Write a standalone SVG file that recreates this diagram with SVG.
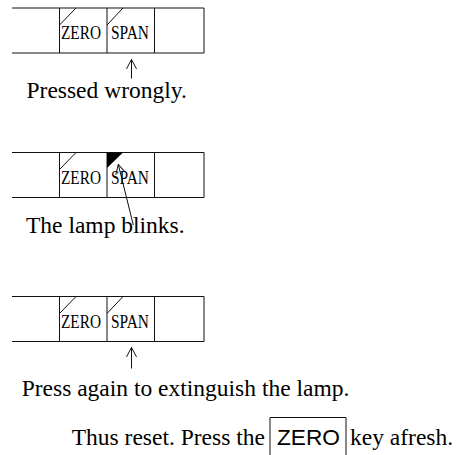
<svg xmlns="http://www.w3.org/2000/svg" width="459" height="455" viewBox="0 0 459 455">
<style>
.ln{fill:none;stroke:#111;stroke-width:1}
.key{font-family:"Liberation Serif","Times New Roman",serif;font-size:19px;fill:#000}
.cap{font-family:"Liberation Serif","Times New Roman",serif;font-size:23.5px;fill:#000}
.box{font-family:"Liberation Sans",Arial,sans-serif;font-size:22px;fill:#000}
</style>
<defs>
<marker id="ah" markerUnits="userSpaceOnUse" markerWidth="12" markerHeight="12" refX="10" refY="5" orient="auto" overflow="visible">
<path d="M0.6,0 L10,5 L0.6,10" fill="none" stroke="#111" stroke-width="1"/>
</marker>
<g id="panel">
<path class="ln" d="M12,0 H204 M12,45 H204 M59.5,0 V45 M107,0 V45 M154.5,0 V45 M204,0 V45"/>
<text class="key" x="61" y="31.3" textLength="40" lengthAdjust="spacingAndGlyphs">ZERO</text>
<text class="key" x="111" y="31.3" textLength="38" lengthAdjust="spacingAndGlyphs">SPAN</text>
</g>
</defs>
<g id="panel1">
<use href="#panel" x="0" y="8"/>
<path class="ln" d="M59.5,25 L76,8 M107,25 L123,8"/>
</g>
<g id="panel2">
<use href="#panel" x="0" y="152.5"/>
<path class="ln" d="M59.5,169.5 L76,152.5"/>
<polygon points="107,152.5 123,152.5 107,168" fill="#000"/>
</g>
<g id="panel3">
<use href="#panel" x="0" y="296.5"/>
<path class="ln" d="M59.5,313.5 L76,296.5 M107,313.5 L123,296.5"/>
</g>
<g id="connectors">
<line class="ln" x1="131.5" y1="78.5" x2="131.5" y2="59.5" marker-end="url(#ah)"/>
<line class="ln" x1="133.3" y1="225" x2="118.3" y2="164.5" marker-end="url(#ah)"/>
<line class="ln" x1="131.5" y1="368.5" x2="131.5" y2="347.5" marker-end="url(#ah)"/>
</g>
<g id="labels">
<text class="cap" x="26.5" y="98.3">Pressed wrongly.</text>
<text class="cap" x="26" y="232.7">The lamp blinks.</text>
<text class="cap" x="21.7" y="396">Press again to extinguish the lamp.</text>
<text class="cap" x="71.7" y="445">Thus reset. Press the</text>
<text class="cap" x="350" y="445">key afresh.</text>
</g>
<g id="zerokey">
<path class="ln" d="M270,455 V417.5 H346 V455"/>
<text class="box" x="277" y="444.5" textLength="63" lengthAdjust="spacingAndGlyphs">ZERO</text>
</g>
</svg>
